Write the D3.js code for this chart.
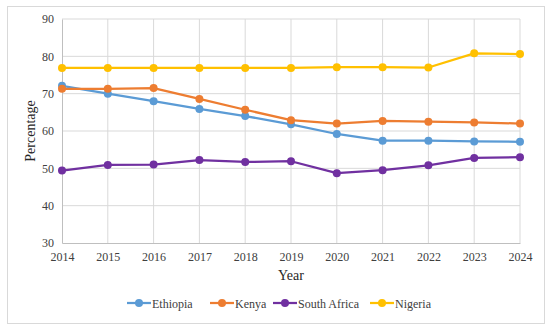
<!DOCTYPE html>
<html>
<head>
<meta charset="utf-8">
<script src="https://cdn.jsdelivr.net/npm/d3@7"></script>
<style>
  body { margin: 0; background: #fff; }
  svg text { font-family: "Liberation Serif", "Times New Roman", serif; }
</style>
</head>
<body>
<svg id="chart" width="550" height="330"></svg>
<script>
// years on the x axis
const years = [2014, 2015, 2016, 2017, 2018, 2019, 2020, 2021, 2022, 2023, 2024];
const countries = ["Ethiopia", "Kenya", "South Africa", "Nigeria"];
const ethiopia = [72.1, 70.0, 68.0, 65.9, 64.0, 61.8, 59.2, 57.4, 57.4, 57.2, 57.1];
const kenya = [71.3, 71.3, 71.5, 68.6, 65.7, 62.9, 62.0, 62.7, 62.5, 62.3, 62.0];
const southAfrica = [49.4, 50.9, 51.0, 52.2, 51.7, 51.9, 48.7, 49.5, 50.8, 52.8, 53.0];
const nigeria = [76.9, 76.9, 76.9, 76.9, 76.9, 76.9, 77.1, 77.1, 77.0, 80.8, 80.6];
const yTicks = [30, 40, 50, 60, 70, 80, 90];

const colors = ["#5B9BD5", "#ED7D31", "#7030A0", "#FFC000"];
const series = [ethiopia, kenya, southAfrica, nigeria];

const svg = d3.select('#chart');

// outer frame
svg.append('rect')
    .attr('x', 7.5).attr('y', 6.5)
    .attr('width', 537).attr('height', 317)
    .attr('fill', 'none')
    .attr('stroke', '#d9d9d9');

const x = d3.scaleLinear()
    .domain([2014, 2024])
    .range([62, 520]);

const y = d3.scaleLinear()
    .domain([30, 90])
    .range([243, 19]);

// gridlines
svg.append('g')
    .selectAll('line')
    .data(yTicks.slice(1))
    .enter()
    .append('line')
    .attr('x1', x(2014)).attr('x2', x(2024))
    .attr('y1', d => y(d)).attr('y2', d => y(d))
    .attr('stroke', '#d9d9d9').attr('stroke-width', 1);

svg.append('g')
    .selectAll('line')
    .data(years.slice(1))
    .enter()
    .append('line')
    .attr('x1', d => x(d)).attr('x2', d => x(d))
    .attr('y1', y(30)).attr('y2', y(90))
    .attr('stroke', '#d9d9d9').attr('stroke-width', 1);

// axes
const yAxis = svg.append('g')
    .attr('transform', `translate(${x(2014)},0)`)
    .call(d3.axisLeft(y).tickValues(yTicks).tickSize(0).tickPadding(8));
yAxis.select('.domain').attr('stroke', '#bfbfbf');
yAxis.selectAll('text').attr('font-size', 12).attr('fill', '#404040')
    .attr('font-family', '"Liberation Serif", serif');

const xAxis = svg.append('g')
    .attr('transform', `translate(0,${y(30)})`)
    .call(d3.axisBottom(x).tickValues(years).tickFormat(d3.format('d')).tickSize(0).tickPadding(9));
xAxis.select('.domain').attr('stroke', '#bfbfbf');
xAxis.selectAll('text').attr('font-size', 12).attr('fill', '#404040')
    .attr('font-family', '"Liberation Serif", serif');

// axis titles
svg.append('text')
    .attr('x', (x(2014) + x(2024)) / 2)
    .attr('y', 280)
    .attr('text-anchor', 'middle')
    .attr('font-size', 14)
    .attr('fill', '#262626')
    .text('Year');

svg.append('text')
    .attr('transform', `translate(35, ${(y(30) + y(90)) / 2}) rotate(-90)`)
    .attr('text-anchor', 'middle')
    .attr('font-size', 14)
    .attr('fill', '#262626')
    .text('Percentage');

// lines and markers
const line = d3.line()
    .x((d, i) => x(years[i]))
    .y(d => y(d));

series.forEach((vals, k) => {
    svg.append('path')
        .datum(vals)
        .attr('d', line)
        .attr('fill', 'none')
        .attr('stroke', colors[k])
        .attr('stroke-width', 2.25)
        .attr('stroke-linejoin', 'round');

    svg.append('g')
        .selectAll('circle')
        .data(vals)
        .enter()
        .append('circle')
        .attr('cx', (d, i) => x(years[i]))
        .attr('cy', d => y(d))
        .attr('r', 4)
        .attr('fill', colors[k]);
});

// legend
const legendX = [127, 210, 273, 370];
const legend = svg.append('g');
countries.forEach((name, k) => {
    const g = legend.append('g').attr('transform', `translate(${legendX[k]},303)`);
    g.append('line')
        .attr('x1', 0).attr('x2', 24)
        .attr('y1', 0).attr('y2', 0)
        .attr('stroke', colors[k]).attr('stroke-width', 2.25);
    g.append('circle')
        .attr('cx', 12).attr('cy', 0).attr('r', 4)
        .attr('fill', colors[k]);
    g.append('text')
        .attr('x', 25).attr('y', 4.5)
        .attr('font-size', 12)
        .attr('fill', '#404040')
        .text(name);
});
</script>
</body>
</html>
